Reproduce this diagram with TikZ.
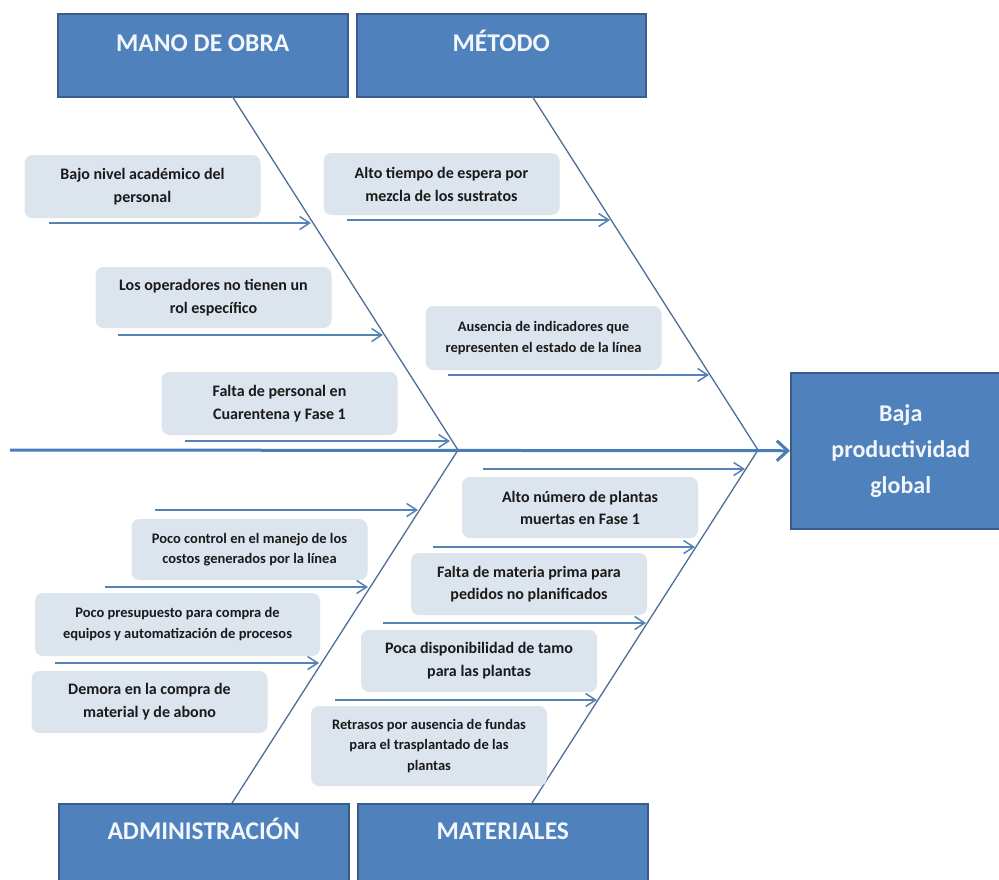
\documentclass[tikz,border=0pt]{standalone}
\usepackage{fontspec}
\setmainfont{Carlito}
\usetikzlibrary{arrows.meta}
\definecolor{hdrfill}{HTML}{4F81BD}
\definecolor{hdrdraw}{HTML}{385D8A}
\definecolor{hdrtext}{HTML}{F2F6FB}
\definecolor{causefill}{HTML}{DCE4EE}
\definecolor{bonecol}{HTML}{4D6F97}
\definecolor{spinecol}{HTML}{4A7DB8}
\definecolor{armcol}{HTML}{5582B5}
\definecolor{causetext}{HTML}{1A1A1A}

\begin{document}
\begin{tikzpicture}[x=1pt,y=-1pt,
  header/.style={draw=hdrdraw, line width=1.5pt, fill=hdrfill, text=hdrtext,
    font=\fontsize{25.5}{30}\selectfont\bfseries, minimum width=290pt,
    inner sep=0pt, text height=38pt, text depth=45pt, anchor=north west},
  effectbox/.style={draw=hdrdraw, line width=1.5pt, fill=hdrfill, text=hdrtext,
    font=\fontsize{24}{36}\selectfont\bfseries, align=center,
    minimum width=220pt, minimum height=156pt, inner sep=0pt, anchor=north west},
  cause/.style={fill=causefill, rounded corners=8pt, inner sep=0pt,
    align=center, text=causetext, minimum width=236pt},
  big/.style={font=\fontsize{16}{23}\selectfont\bfseries},
  small/.style={font=\fontsize{14.5}{21}\selectfont\bfseries},
  bone/.style={draw=bonecol, line width=1.3pt},
  spine/.style={draw=spinecol, line width=3pt,
    -{Straight Barb[length=11pt,width=20pt]}},
  arm/.style={draw=armcol, line width=1.5pt,
    -{Straight Barb[length=10pt,width=13pt]}}
]
\useasboundingbox (0,0) rectangle (999,879);
\fill[white] (0,0) rectangle (999,879);
\clip (0,0) rectangle (999,879);

% category headers
\node[header] (mano) at (57,13) {MANO DE OBRA};
\node[header, minimum width=289pt] (metodo) at (356,13) {MÉTODO};
\node[header, text height=36pt, text depth=47pt] (admin) at (58,803) {ADMINISTRACIÓN};
\node[header, text height=36pt, text depth=47pt] (mater) at (357,803) {MATERIALES};

% effect
\node[effectbox] (effect) at (790,372) {Baja\\productividad\\global};

% junctions on the spine
\coordinate (tail) at (10,450);
\coordinate (jA) at (458,450);
\coordinate (jB) at (758,450);
\coordinate (manoB) at (232,96);
\coordinate (metoB) at (532,96);
\coordinate (admiB) at (232,803);
\coordinate (mateB) at (532,803);

% bones
\draw[bone] (manoB) -- (jA) -- (admiB);
\draw[bone] (metoB) -- (jB) -- (mateB);

% spine
\draw[spine] (tail) -- (effect.west);

% causes: mano de obra
\node[cause, big, minimum height=63pt] (m1) at (142.5,186.5) {Bajo nivel académico del\\personal};
\node[cause, big, minimum height=61pt] (m2) at (213.5,297.5) {Los operadores no tienen un\\rol específico};
\node[cause, big, minimum height=63pt] (m3) at (279.5,403.5) {Falta de personal en\\Cuarentena y Fase 1};

% causes: método
\node[cause, big, minimum height=62pt] (t1) at (441.5,184) {Alto tiempo de espera por\\mezcla de los sustratos};
\node[cause, small, minimum height=64pt] (t2) at (543.5,338) {Ausencia de indicadores que\\representen el estado de la línea};

% causes: administración
\node[cause, small, font=\fontsize{14.5}{20}\selectfont\bfseries, minimum height=61pt] (a1) at (249.5,549.5) {Poco control en el manejo de los\\costos generados por la línea};
\node[cause, small, minimum width=285pt, minimum height=63pt] (a2) at (177.5,624.5) {Poco presupuesto para compra de\\equipos y automatización de procesos};
\node[cause, big, minimum height=62pt] (a3) at (149.5,702) {Demora en la compra de\\material y de abono};

% causes: materiales
\node[cause, big, font=\fontsize{16}{22}\selectfont\bfseries, minimum height=61pt] (mt1) at (580,507.5) {Alto número de plantas\\muertas en Fase 1};
\node[cause, big, font=\fontsize{16}{22}\selectfont\bfseries, minimum height=62pt] (mt2) at (529,584) {Falta de materia prima para\\pedidos no planificados};
\node[cause, big, minimum height=62pt] (mt3) at (479,661) {Poca disponibilidad de tamo\\para las plantas};
\node[cause, small, font=\fontsize{14.5}{20.5}\selectfont\bfseries, minimum height=80pt] (mt4) at (429,746) {Retrasos por ausencia de fundas\\para el trasplantado de las\\plantas};

% arm end points
\coordinate (m1s) at (49,223);   \coordinate (m1e) at (311,223);
\coordinate (m2s) at (118,335);  \coordinate (m2e) at (383,335);
\coordinate (m3s) at (185,441);  \coordinate (m3e) at (450,441);
\coordinate (t1s) at (347,220);  \coordinate (t1e) at (610,220);
\coordinate (t2s) at (448,375);  \coordinate (t2e) at (709,375);
\coordinate (a1s) at (155,510);  \coordinate (a1e) at (418,510);
\coordinate (a2s) at (105,587);  \coordinate (a2e) at (368,587);
\coordinate (a3s) at (55,663);   \coordinate (a3e) at (319,663);
\coordinate (mt1s) at (483,469); \coordinate (mt1e) at (745,469);
\coordinate (mt2s) at (433,547); \coordinate (mt2e) at (695,547);
\coordinate (mt3s) at (383,623); \coordinate (mt3e) at (646,623);
\coordinate (mt4s) at (335,700); \coordinate (mt4e) at (597,700);

% arms
\foreach \c in {m1,m2,m3,t1,t2,a1,a2,a3,mt1,mt2,mt3,mt4}
  \draw[arm] (\c s) -- (\c e);
\end{tikzpicture}
\end{document}
